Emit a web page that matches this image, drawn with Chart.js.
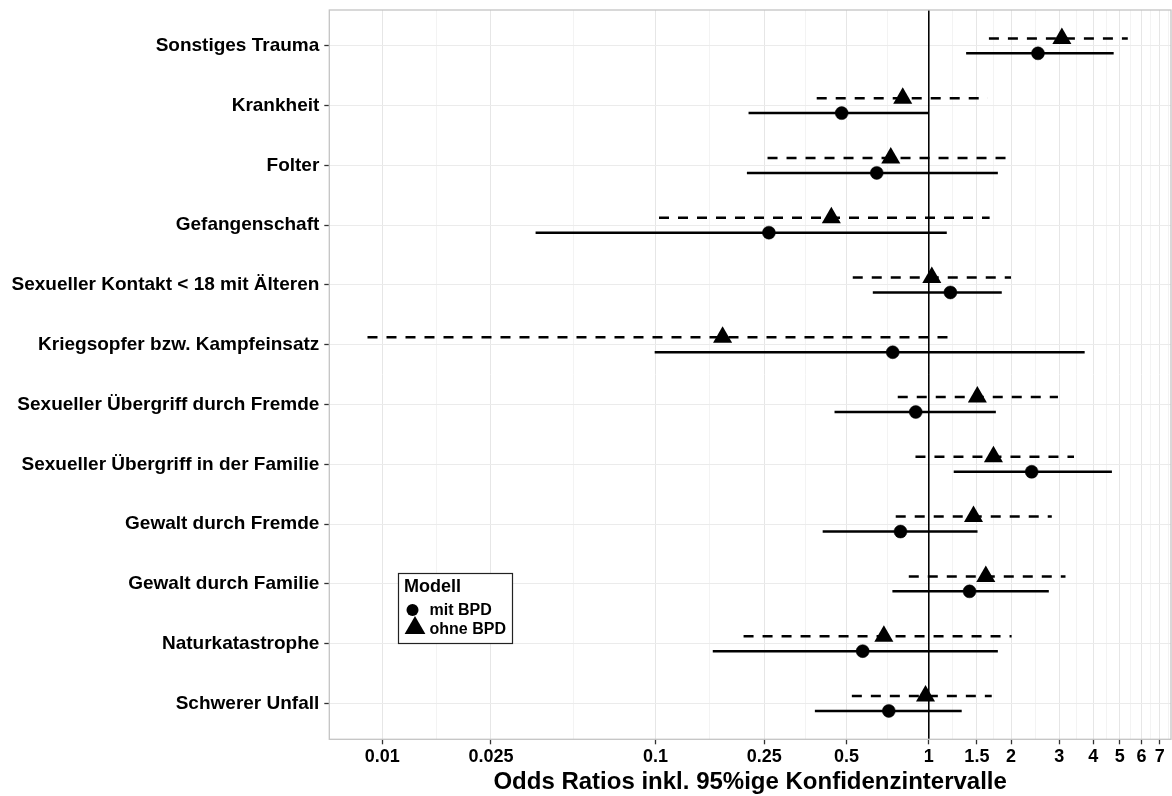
<!DOCTYPE html>
<html>
<head>
<meta charset="utf-8">
<title>Odds Ratios</title>
<script src="https://cdn.jsdelivr.net/npm/chart.js@4.4.0/dist/chart.umd.min.js"></script>
<style>
  html, body { margin: 0; padding: 0; background: #fff; }
  #wrap { width: 1172px; height: 796px; }
</style>
</head>
<body>
<div id="wrap"><canvas id="orChart" width="1172" height="796"></canvas></div>
<script>
const categories = [
  "Sonstiges Trauma",
  "Krankheit",
  "Folter",
  "Gefangenschaft",
  "Sexueller Kontakt < 18 mit Älteren",
  "Kriegsopfer bzw. Kampfeinsatz",
  "Sexueller Übergriff durch Fremde",
  "Sexueller Übergriff in der Familie",
  "Gewalt durch Fremde",
  "Gewalt durch Familie",
  "Naturkatastrophe",
  "Schwerer Unfall"
];

// Modell "mit BPD"
const mitOR = [2.51, 0.48, 0.645, 0.26, 1.20, 0.738, 0.896, 2.38, 0.788, 1.41, 0.573, 0.714];
const mitLo = [1.37, 0.219, 0.216, 0.0364, 0.624, 0.0993, 0.452, 1.234, 0.409, 0.736, 0.162, 0.383];
const mitHi = [4.75, 1.0, 1.79, 1.164, 1.85, 3.72, 1.76, 4.68, 1.508, 2.75, 1.79, 1.32];

// Modell "ohne BPD"
const ohneOR = [3.07, 0.803, 0.726, 0.44, 1.026, 0.176, 1.506, 1.725, 1.458, 1.617, 0.685, 0.973];
const ohneLo = [1.66, 0.389, 0.257, 0.103, 0.527, 0.00883, 0.77, 0.894, 0.757, 0.845, 0.21, 0.523];
const ohneHi = [5.35, 1.644, 2.01, 1.67, 2.0, 1.18, 2.97, 3.4, 2.82, 3.165, 2.01, 1.70];

const xTickValues = [0.01, 0.025, 0.1, 0.25, 0.5, 1, 1.5, 2, 3, 4, 5, 6, 7];
const xTickLabels = ["0.01", "0.025", "0.1", "0.25", "0.5", "1", "1.5", "2", "3", "4", "5", "6", "7"];

const xTitle = "Odds Ratios inkl. 95%ige Konfidenzintervalle";
const legendTitle = "Modell";
const seriesNames = ["mit BPD", "ohne BPD"];

const X_MIN = 0.0064;
const X_MAX = 7.7;
const DODGE = 0.125;
const FONT = "'Liberation Sans', Arial, Helvetica, sans-serif";

// minor grid lines sit halfway (on the log scale) between the labelled breaks
const minorValues = [];
for (let i = 0; i < xTickValues.length - 1; i++) {
  minorValues.push(Math.sqrt(xTickValues[i] * xTickValues[i + 1]));
}
const last = xTickValues[xTickValues.length - 1];
const prev = xTickValues[xTickValues.length - 2];
minorValues.push(Math.sqrt(last * (last * last / prev)));

const majorSet = new Set(xTickValues);

function rowY(i, shift) {
  return i + 1 + shift;
}

const datasets = [];

// points on top
datasets.push({
  label: seriesNames[0],
  data: categories.map((c, i) => ({ x: mitOR[i], y: rowY(i, DODGE) })),
  pointStyle: "circle",
  pointRadius: 6.5,
  backgroundColor: "#000",
  borderColor: "#000",
  borderWidth: 0.5,
  showLine: false,
  order: 0
});
datasets.push({
  label: seriesNames[1],
  data: categories.map((c, i) => ({ x: ohneOR[i], y: rowY(i, -DODGE) })),
  pointStyle: "triangle",
  pointRadius: 11,
  backgroundColor: "#000",
  borderColor: "#000",
  borderWidth: 0,
  showLine: false,
  order: 0
});

// confidence intervals
categories.forEach((c, i) => {
  datasets.push({
    label: "ci-mit-" + i,
    data: [{ x: mitLo[i], y: rowY(i, DODGE) }, { x: mitHi[i], y: rowY(i, DODGE) }],
    showLine: true,
    borderColor: "#000",
    borderWidth: 2.5,
    pointRadius: 0,
    order: 1
  });
  datasets.push({
    label: "ci-ohne-" + i,
    data: [{ x: ohneLo[i], y: rowY(i, -DODGE) }, { x: ohneHi[i], y: rowY(i, -DODGE) }],
    showLine: true,
    borderColor: "#000",
    borderWidth: 2.5,
    borderDash: [10, 9],
    pointRadius: 0,
    order: 1
  });
});

// reference line at OR = 1
datasets.push({
  label: "ref",
  data: [{ x: 1, y: 0.4 }, { x: 1, y: categories.length + 0.6 }],
  showLine: true,
  borderColor: "#000",
  borderWidth: 1,
  pointRadius: 0,
  order: 2
});

const panelBorder = {
  id: "panelBorder",
  afterDraw(chart) {
    const { ctx, chartArea: a } = chart;
    ctx.save();
    ctx.strokeStyle = "#c4c4c4";
    ctx.lineWidth = 1.3;
    ctx.strokeRect(a.left, a.top, a.right - a.left, a.bottom - a.top);
    ctx.restore();
  }
};

const legendBox = {
  id: "legendBox",
  afterDraw(chart) {
    const ctx = chart.ctx;
    const left = 398.5, top = 573.5, w = 114, h = 70;
    ctx.save();
    ctx.fillStyle = "#fff";
    ctx.fillRect(left, top, w, h);
    ctx.strokeStyle = "#222";
    ctx.lineWidth = 1.2;
    ctx.strokeRect(left, top, w, h);

    ctx.fillStyle = "#000";
    ctx.textBaseline = "alphabetic";
    ctx.textAlign = "left";
    ctx.font = "bold 18px " + FONT;
    ctx.fillText(legendTitle, left + 5.5, top + 18);

    // circle
    ctx.beginPath();
    ctx.arc(left + 14, top + 36.5, 6, 0, Math.PI * 2);
    ctx.fill();
    // triangle
    const cx = left + 16.5, cy = top + 54.5, r = 12;
    ctx.beginPath();
    ctx.moveTo(cx, cy - r);
    ctx.lineTo(cx + r * Math.sin(2 * Math.PI / 3), cy + r / 2);
    ctx.lineTo(cx - r * Math.sin(2 * Math.PI / 3), cy + r / 2);
    ctx.closePath();
    ctx.fill();

    ctx.font = "bold 16px " + FONT;
    ctx.fillText(seriesNames[0], left + 31, top + 41.5);
    ctx.fillText(seriesNames[1], left + 31, top + 60.5);
    ctx.restore();
  }
};

new Chart(document.getElementById("orChart"), {
  type: "scatter",
  data: { datasets },
  plugins: [panelBorder, legendBox],
  options: {
    responsive: false,
    devicePixelRatio: 1,
    animation: false,
    layout: { autoPadding: false, padding: { top: 10, right: 1, left: 0, bottom: 0 } },
    plugins: {
      legend: { display: false },
      tooltip: { enabled: false }
    },
    scales: {
      x: {
        type: "logarithmic",
        min: X_MIN,
        max: X_MAX,
        border: { display: false },
        afterBuildTicks: (scale) => {
          scale.ticks = xTickValues.concat(minorValues).sort((a, b) => a - b).map((v) => ({ value: v }));
        },
        afterFit: (scale) => {
          scale.height = 56.7;
          scale.paddingLeft = 0;
          scale.paddingRight = 0;
        },
        grid: {
          color: (ctx) => (ctx.tick && majorSet.has(ctx.tick.value) ? "#e6e6e6" : "#f3f3f3"),
          lineWidth: 1,
          drawTicks: true,
          tickLength: 5,
          tickColor: (ctx) => (ctx.tick && majorSet.has(ctx.tick.value) ? "#333" : "rgba(0,0,0,0)"),
          tickWidth: 1.3
        },
        ticks: {
          autoSkip: false,
          maxRotation: 0,
          padding: 2,
          color: "#000",
          font: { family: FONT, size: 18, weight: "bold" },
          callback: (v) => {
            const k = xTickValues.indexOf(v);
            return k >= 0 ? xTickLabels[k] : "";
          }
        },
        title: {
          display: true,
          text: xTitle,
          color: "#000",
          font: { family: FONT, size: 24, weight: "bold" },
          padding: { top: 0, bottom: -1 }
        }
      },
      y: {
        type: "linear",
        reverse: true,
        min: 0.4,
        max: categories.length + 0.6,
        border: { display: false },
        afterBuildTicks: (scale) => {
          scale.ticks = categories.map((c, i) => ({ value: i + 1 }));
        },
        afterFit: (scale) => {
          scale.width = 329.3;
          scale.paddingTop = 0;
          scale.paddingBottom = 0;
        },
        grid: {
          color: "#ebebeb",
          lineWidth: 1,
          drawTicks: true,
          tickLength: 5,
          tickColor: "#333",
          tickWidth: 1.3
        },
        ticks: {
          autoSkip: false,
          padding: 5,
          color: "#000",
          font: { family: FONT, size: 19, weight: "bold" },
          callback: (v) => categories[v - 1]
        }
      }
    }
  }
});
</script>
</body>
</html>
